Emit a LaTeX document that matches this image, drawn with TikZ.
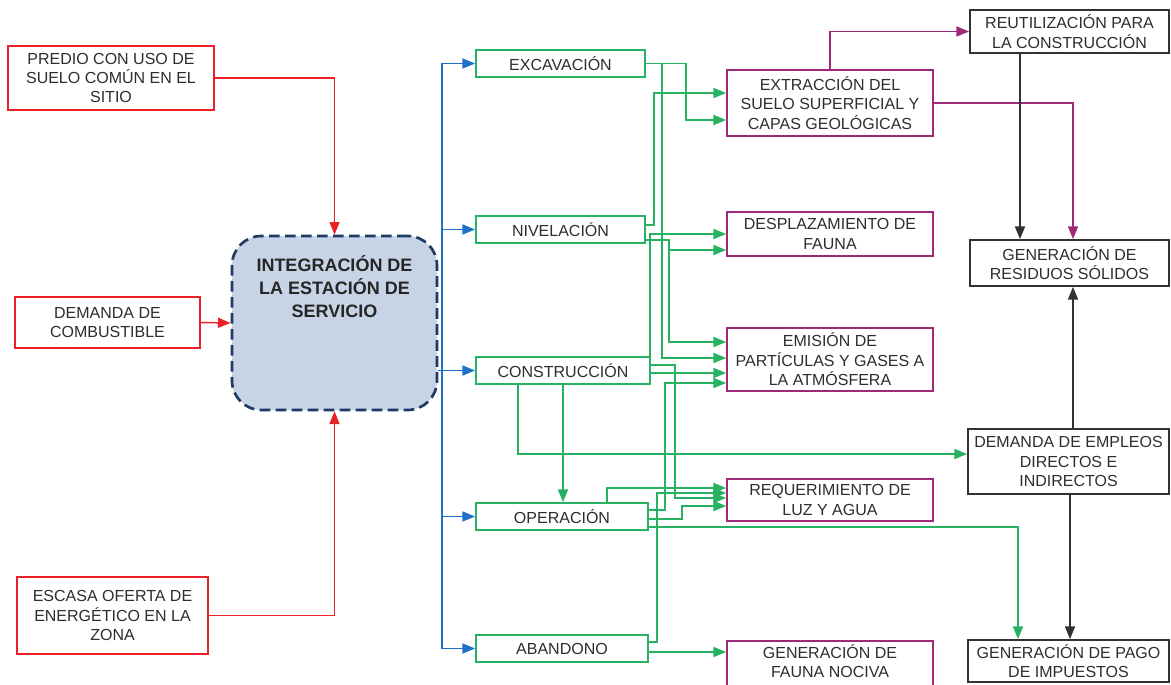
\documentclass[tikz,border=0pt]{standalone}
\usepackage{fontspec}
\setmainfont{Liberation Sans}
\usetikzlibrary{arrows.meta,calc}
\definecolor{redc}{RGB}{234,34,40}
\definecolor{bluec}{RGB}{30,112,200}
\definecolor{greenc}{RGB}{38,178,98}
\definecolor{purpc}{RGB}{160,40,120}
\definecolor{navyc}{RGB}{31,56,100}
\definecolor{fillc}{RGB}{198,212,230}
\definecolor{txtc}{RGB}{45,45,45}
\definecolor{blkc}{RGB}{50,50,50}
\tikzset{
  basebox/.style={draw, rectangle, align=center, inner sep=1.5pt, text=txtc, line width=1.3pt},
  rbox/.style={basebox, draw=redc},
  gbox/.style={basebox, draw=greenc, minimum height=20.25pt},
  pbox/.style={basebox, draw=purpc, minimum width=154.5pt},
  kbox/.style={basebox, draw=blkc},
  central/.style={draw=navyc, fill=fillc, rounded corners=22pt, line width=2pt, dash pattern=on 8pt off 4pt},
  ctext/.style={align=center, text=black!85, font=\fontsize{13.5}{17.3}\selectfont\bfseries},
  tip/.style={-{Triangle[length=9.5pt,width=7.5pt]}},
  redarr/.style={draw=redc, line width=1.1pt, tip},
  bluearr/.style={draw=bluec, line width=1.1pt, tip},
  blueline/.style={draw=bluec, line width=1.1pt},
  greenarr/.style={draw=greenc, line width=1.1pt, tip},
  purparr/.style={draw=purpc, line width=1.1pt, tip},
  blackarr/.style={draw=blkc, line width=1.1pt, tip}
}
\begin{document}
\begin{tikzpicture}[x=0.75pt,y=-0.75pt, font=\fontsize{12}{14.6}\selectfont]
\useasboundingbox (0,0) rectangle (1171,685);

% left cause boxes
\node[rbox, minimum width=154.5pt, minimum height=48pt] (pred) at (111,78) {PREDIO CON USO DE\\SUELO COMÚN EN EL\\SITIO};
\node[rbox, minimum width=138.75pt, minimum height=38.25pt] (dem) at (107.5,322.5) {DEMANDA DE\\COMBUSTIBLE};
\node[rbox, minimum width=143.25pt, minimum height=57.75pt] (esc) at (112.5,615.5) {ESCASA OFERTA DE\\ENERGÉTICO EN LA\\ZONA};

% central box
\node[central, minimum width=153.75pt, minimum height=130.5pt] (integ) at (334.5,323) {};
\node[ctext] (integt) at (334.5,287) {INTEGRACIÓN DE\\LA ESTACIÓN DE\\SERVICIO};

% phase boxes
\node[gbox, minimum width=126.75pt] (exc) at (560.5,63.5) {EXCAVACIÓN};
\node[gbox, minimum width=126.75pt] (niv) at (560.5,229.5) {NIVELACIÓN};
\node[gbox, minimum width=130.5pt] (con) at (563,370.5) {CONSTRUCCIÓN};
\node[gbox, minimum width=129pt] (ope) at (562,516.5) {OPERACIÓN};
\node[gbox, minimum width=129pt] (aba) at (562,648.5) {ABANDONO};

% impact boxes
\node[pbox, minimum height=49.5pt] (extr) at (830,103) {EXTRACCIÓN DEL\\SUELO SUPERFICIAL Y\\CAPAS GEOLÓGICAS};
\node[pbox, minimum height=33pt] (despl) at (830,234) {DESPLAZAMIENTO DE\\FAUNA};
\node[pbox, minimum height=47.25pt] (emis) at (830,359.5) {EMISIÓN DE\\PARTÍCULAS Y GASES A\\LA ATMÓSFERA};
\node[pbox, minimum height=31.5pt] (req) at (830,500) {REQUERIMIENTO DE\\LUZ Y AGUA};
\node[pbox, minimum height=43.5pt] (fauna) at (830,670) {};
\node[align=center, text=txtc] (faunat) at (830,661) {GENERACIÓN DE\\FAUNA NOCIVA};

% right boxes
\node[kbox, minimum width=149.25pt, minimum height=32.25pt] (reut) at (1069.5,31.5) {REUTILIZACIÓN PARA\\LA CONSTRUCCIÓN};
\node[kbox, minimum width=149.25pt, minimum height=34.5pt] (resid) at (1069.5,263) {GENERACIÓN DE\\RESIDUOS SÓLIDOS};
\node[kbox, minimum width=150.75pt, minimum height=48.75pt] (empl) at (1068.5,461.5) {DEMANDA DE EMPLEOS\\DIRECTOS E\\INDIRECTOS};
\node[kbox, minimum width=150.75pt, minimum height=31.5pt] (pago) at (1068.5,661) {GENERACIÓN DE PAGO\\DE IMPUESTOS};

% red connectors
\draw[redarr] (pred.east) -| (integ.north);
\draw[redarr] (dem.east) -- (integ.west);
\draw[redarr] (esc.east) -| (integ.south);

% blue connectors
\coordinate (tr) at (442,0);
\draw[blueline] (tr|-exc.west) -- (tr|-aba.west);
\draw[bluearr] (tr|-exc.west) -- (exc.west);
\draw[bluearr] (tr|-niv.west) -- (niv.west);
\draw[bluearr] (integ.east|-con.west) -- (con.west);
\draw[bluearr] (tr|-ope.west) -- (ope.west);
\draw[bluearr] (tr|-aba.west) -- (aba.west);

% green connectors
\draw[greenarr] (exc.east) -| ($(extr.west)+(-40,17)$) -- ($(extr.west)+(0,17)$);
\draw[greenarr] ($(exc.east)+(16,0)$) |- ($(emis.west)+(0,-1.5)$);
\draw[greenarr] ($(niv.east)+(0,-4.5)$) -| ($(extr.west)+(-72,-10)$) -- ($(extr.west)+(0,-10)$);
\draw[greenarr] ($(niv.east)+(0,10.5)$) -| ($(emis.west)+(-57,-17.5)$) -- ($(emis.west)+(0,-17.5)$);
\draw[greenarr] ($(despl.west)+(-57,16)$) -- ($(despl.west)+(0,16)$);
\draw[greenarr] ($(con.north east)+(-1,0)$) |- (despl.west);
\draw[greenarr] ($(con.east)+(0,2.5)$) -- ($(emis.west)+(0,13.5)$);
\draw[greenarr] ($(con.east)+(0,-5.5)$) -| ($(req.west)+(-51,-2)$) -- ($(req.west)+(0,-2)$);
\draw[greenarr] ($(con.south)+(-45,0)$) |- ($(empl.west)+(0,-7.5)$);
\draw[greenarr] (con.south) -- (con.south|-ope.north);
\draw[greenarr] ($(ope.north)+(45,0)$) |- ($(req.west)+(0,-12)$);
\draw[greenarr] ($(ope.east)+(0,-6.5)$) -| ($(emis.west)+(-61,23.5)$) -- ($(emis.west)+(0,23.5)$);
\draw[greenarr] ($(ope.east)+(0,2.5)$) -| ($(req.west)+(-44,6)$) -- ($(req.west)+(0,6)$);
\draw[greenarr] ($(ope.east)+(0,10.5)$) -| ($(pago.north)+(-50.5,0)$);
\draw[greenarr] ($(aba.east)+(0,-6.5)$) -| ($(req.west)+(-69,-7)$) -- ($(req.west)+(0,-7)$);
\draw[greenarr] ($(aba.east)+(0,3.5)$) -- ($(fauna.west)+(0,-18)$);

% purple connectors
\draw[purparr] (extr.north) |- (reut.west);
\draw[purparr] (extr.east) -| ($(resid.north)+(3.5,0)$);

% black connectors
\coordinate (bx) at (1020,0);
\coordinate (rx) at (1073,0);
\coordinate (lx) at (1070,0);
\draw[blackarr] (bx|-reut.south) -- (bx|-resid.north);
\draw[blackarr] (rx|-empl.north) -- (rx|-resid.south);
\draw[blackarr] (lx|-empl.south) -- (lx|-pago.north);
\end{tikzpicture}
\end{document}
